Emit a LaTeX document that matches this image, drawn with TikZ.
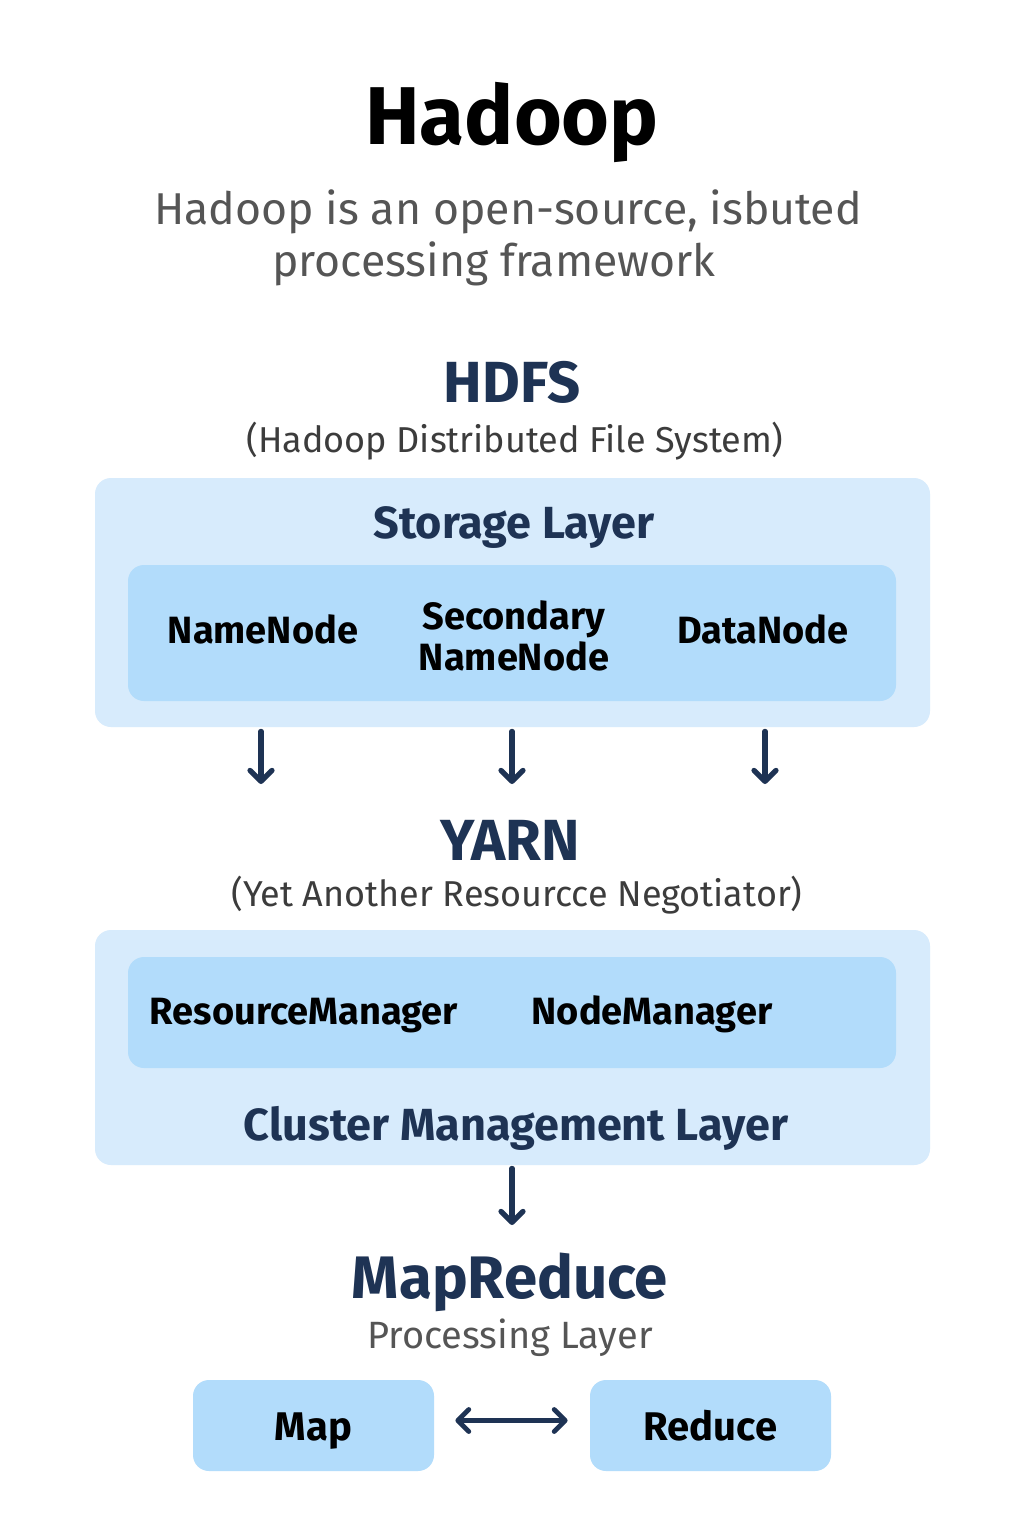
\documentclass[tikz,border=0pt]{standalone}
\usepackage{fontspec}
\setmainfont{Fira Sans}
\usetikzlibrary{arrows.meta, positioning, calc}

\definecolor{navy}{HTML}{1E3354}
\definecolor{layerbg}{HTML}{D7EBFC}
\definecolor{compbg}{HTML}{B2DCFB}
\definecolor{subgray}{HTML}{555555}
\definecolor{notegray}{HTML}{3C3C3C}

\tikzset{
    layer/.style={fill=layerbg, rounded corners=8pt, inner sep=0pt},
    comp/.style={fill=compbg, rounded corners=8pt, inner sep=0pt},
    lbl/.style={anchor=base, inner sep=0pt, font=\bfseries\fontsize{19}{20.5}\selectfont},
    heading/.style={anchor=base, inner sep=0pt, text=navy, font=\bfseries\fontsize{29}{34}\selectfont},
    layername/.style={anchor=base, inner sep=0pt, text=navy, font=\bfseries\fontsize{22.5}{26}\selectfont},
    note/.style={anchor=base, inner sep=0pt, text=notegray, font=\fontsize{18}{21}\selectfont},
    intro/.style={anchor=base, inner sep=0pt, text=subgray, font=\fontsize{22.3}{26}\selectfont},
    flow/.style={-{Straight Barb[length=5.5pt, width=11pt, line cap=round, line join=round]},
        line width=2.6pt, line cap=round, navy},
    biflow/.style={{Straight Barb[length=5.5pt, width=11pt, line cap=round, line join=round]}-{Straight Barb[length=5.5pt, width=11pt, line cap=round, line join=round]},
        line width=2.4pt, line cap=round, navy},
}

\begin{document}
\begin{tikzpicture}[x=0.5pt, y=-0.5pt]

    % Canvas
    \useasboundingbox[fill=white] (0,0) rectangle (1024,1536);

    % Title
    \node[anchor=base, inner sep=0pt, font=\bfseries\fontsize{41}{48}\selectfont]
        (title) at (512,145) {Hadoop};
    \node[intro] (introA) at (508,224) {Hadoop is an open-source, isbuted};
    \node[intro] (introB) at (494,276) {processing framework};

    % HDFS
    \node[heading] (hdfs) at (512,402) {HDFS};
    \node[note] (hdfsnote) at (515,452) {(Hadoop Distributed File System)};

    \node[layer, minimum width=417.5pt, minimum height=124.5pt] (storage) at (512.5,602.5) {};
    \node[layername] (storagename) at (514,538) {Storage Layer};
    \node[comp, minimum width=384pt, minimum height=68pt] (storagecomp) at (512,633) {};
    \node[lbl] (nn) at (263,643) {NameNode};
    \node[lbl, anchor=center, align=center] (snn) at (514,636) {Secondary\\NameNode};
    \node[lbl] (dn) at (763,643) {DataNode};

    % Storage to YARN
    \coordinate (nnEnd)  at (261,784);
    \coordinate (snnEnd) at (512,784);
    \coordinate (dnEnd)  at (765,784);
    \draw[flow, shorten <=2pt] (storage.south -| nnEnd)  -- (nnEnd);
    \draw[flow, shorten <=2pt] (storage.south -| snnEnd) -- (snnEnd);
    \draw[flow, shorten <=2pt] (storage.south -| dnEnd)  -- (dnEnd);

    % YARN
    \node[heading] (yarn) at (510,860) {YARN};
    \node[note] (yarnnote) at (517,906) {(Yet Another Resourcce Negotiator)};

    \node[layer, minimum width=417.5pt, minimum height=117.5pt] (cluster) at (512.5,1047.5) {};
    \node[comp, minimum width=384pt, minimum height=55.5pt] (clustercomp) at (512,1012.5) {};
    \node[lbl] (rm) at (304,1024) {ResourceManager};
    \node[lbl] (nm) at (652,1024) {NodeManager};
    \node[layername] (clustername) at (516,1140) {Cluster Management Layer};

    % YARN to MapReduce
    \coordinate (mrEnd) at (512,1225);
    \draw[flow, shorten <=1.5pt] (cluster.south -| mrEnd) -- (mrEnd);

    % MapReduce
    \node[heading, font=\bfseries\fontsize{30}{36}\selectfont] (mapreduce) at (510,1298) {MapReduce};
    \node[note, text=subgray, font=\fontsize{19}{22}\selectfont] (mrnote) at (510,1348) {Processing Layer};

    \node[comp, minimum width=120.5pt, minimum height=45.5pt] (map) at (313.5,1425.5) {};
    \node[lbl, font=\bfseries\fontsize{20}{24}\selectfont] (maplbl) at (map.center |- 0,1440) {Map};
    \node[comp, minimum width=120.5pt, minimum height=45.5pt] (reduce) at (710.5,1425.5) {};
    \node[lbl, font=\bfseries\fontsize{20}{24}\selectfont] (reducelbl) at (reduce.center |- 0,1440) {Reduce};

    \draw[biflow, shorten <=10.5pt, shorten >=11pt]
        ([yshift=2.5pt]map.east) -- ([yshift=2.5pt]reduce.west);

\end{tikzpicture}
\end{document}
